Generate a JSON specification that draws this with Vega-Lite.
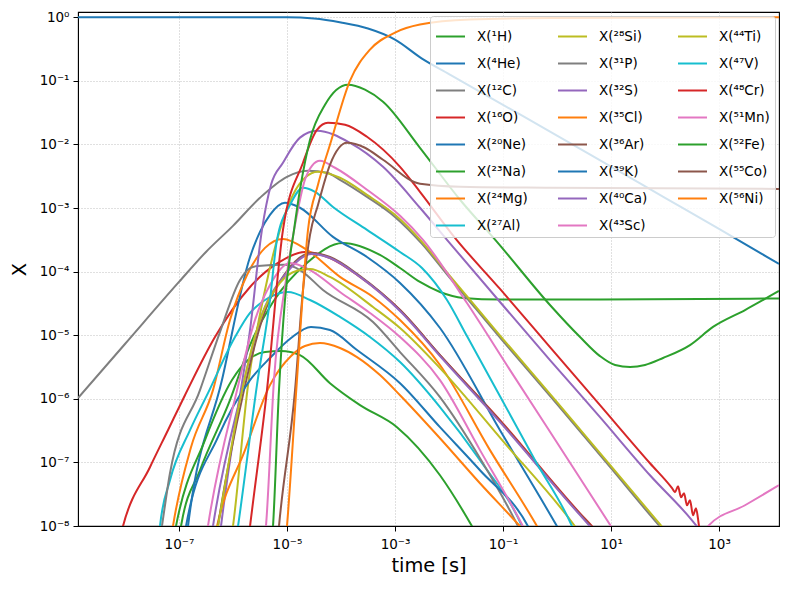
{
  "$schema": "https://vega.github.io/schema/vega-lite/v6.json",
  "width": 701,
  "height": 514,
  "autosize": {"type": "none"},
  "padding": {"left": 78, "top": 12, "right": 11, "bottom": 63},
  "background": "white",
  "config": {
    "font": "DejaVu Sans",
    "view": {"stroke": "black", "strokeWidth": 1.1}
  },
  "data": {"values": [
    {"s":"X(¹H)","t":8.8e-8,"v":2.88e-9},{"s":"X(¹H)","t":1.09e-7,"v":9.9e-9},{"s":"X(¹H)","t":2.45e-7,"v":7.53e-8},{"s":"X(¹H)","t":8.8e-7,"v":9.55e-7},{"s":"X(¹H)","t":2.07e-6,"v":7.01e-6},{"s":"X(¹H)","t":5.51e-6,"v":3.33e-5},{"s":"X(¹H)","t":2.34e-5,"v":1.37e-4},{"s":"X(¹H)","t":1.09e-4,"v":2.83e-4},{"s":"X(¹H)","t":5.27e-4,"v":1.83e-4},{"s":"X(¹H)","t":1.24e-3,"v":1.14e-4},{"s":"X(¹H)","t":2.9e-3,"v":6.88e-5},{"s":"X(¹H)","t":6.81e-3,"v":4.79e-5},{"s":"X(¹H)","t":1.82e-2,"v":3.86e-5},{"s":"X(¹H)","t":8.8e-2,"v":3.65e-5},{"s":"X(¹H)","t":6.25,"v":3.65e-5},{"s":"X(¹H)","t":1.29e4,"v":3.79e-5},
    {"s":"X(⁴He)","t":1.35e-9,"v":1.0},{"s":"X(⁴He)","t":1e-5,"v":0.998},{"s":"X(⁴He)","t":3.16e-5,"v":0.955},{"s":"X(⁴He)","t":1e-4,"v":0.826},{"s":"X(⁴He)","t":3.16e-4,"v":0.664},{"s":"X(⁴He)","t":1e-3,"v":0.445},{"s":"X(⁴He)","t":3.16e-3,"v":0.224},{"s":"X(⁴He)","t":1e-2,"v":0.128},{"s":"X(⁴He)","t":0.1,"v":0.042},{"s":"X(⁴He)","t":1,"v":0.0138},{"s":"X(⁴He)","t":10,"v":4.47e-3},{"s":"X(⁴He)","t":100,"v":1.45e-3},{"s":"X(⁴He)","t":1000,"v":4.7e-4},{"s":"X(⁴He)","t":1.29e4,"v":1.32e-4},
    {"s":"X(¹²C)","t":1.35e-9,"v":1.03e-6},{"s":"X(¹²C)","t":1e-8,"v":7.28e-6},{"s":"X(¹²C)","t":1e-7,"v":6.88e-5},{"s":"X(¹²C)","t":3.16e-7,"v":2.04e-4},{"s":"X(¹²C)","t":1e-6,"v":5.25e-4},{"s":"X(¹²C)","t":3.16e-6,"v":1.45e-3},{"s":"X(¹²C)","t":1e-5,"v":3.1e-3},{"s":"X(¹²C)","t":2.45e-5,"v":3.86e-3},{"s":"X(¹²C)","t":5.51e-5,"v":3.58e-3},{"s":"X(¹²C)","t":9.58e-5,"v":2.78e-3},{"s":"X(¹²C)","t":3.03e-4,"v":1.5e-3},{"s":"X(¹²C)","t":1e-3,"v":7.26e-4},{"s":"X(¹²C)","t":3.16e-3,"v":2.73e-4},{"s":"X(¹²C)","t":1e-2,"v":8.26e-5},{"s":"X(¹²C)","t":3.16e-2,"v":2.59e-5},{"s":"X(¹²C)","t":0.1,"v":8.11e-6},{"s":"X(¹²C)","t":1,"v":8.26e-7},{"s":"X(¹²C)","t":10,"v":8.1e-8},{"s":"X(¹²C)","t":100,"v":7.96e-9},{"s":"X(¹²C)","t":445,"v":2e-9},
    {"s":"X(¹⁶O)","t":6.53e-9,"v":2.88e-9},{"s":"X(¹⁶O)","t":9.18e-9,"v":9.9e-9},{"s":"X(¹⁶O)","t":2.9e-8,"v":8.4e-8},{"s":"X(¹⁶O)","t":6.25e-8,"v":3.21e-7},{"s":"X(¹⁶O)","t":1.29e-7,"v":1.14e-6},{"s":"X(¹⁶O)","t":4.64e-7,"v":9.37e-6},{"s":"X(¹⁶O)","t":2.07e-6,"v":5.74e-5},{"s":"X(¹⁶O)","t":6.81e-6,"v":1.37e-4},{"s":"X(¹⁶O)","t":2.15e-5,"v":2.04e-4},{"s":"X(¹⁶O)","t":6.25e-5,"v":1.64e-4},{"s":"X(¹⁶O)","t":2.25e-4,"v":8.26e-5},{"s":"X(¹⁶O)","t":1.24e-3,"v":2.49e-5},{"s":"X(¹⁶O)","t":6.81e-3,"v":4.87e-6},{"s":"X(¹⁶O)","t":8.8e-2,"v":4.62e-7},{"s":"X(¹⁶O)","t":2.67,"v":1.58e-8},{"s":"X(¹⁶O)","t":4.45,"v":9.9e-9},{"s":"X(¹⁶O)","t":6.25,"v":7.14e-9},
    {"s":"X(²⁰Ne)","t":1.24e-7,"v":2.88e-9},{"s":"X(²⁰Ne)","t":1.47e-7,"v":9.9e-9},{"s":"X(²⁰Ne)","t":6.25e-7,"v":1.97e-6},{"s":"X(²⁰Ne)","t":2.07e-6,"v":1.7e-4},{"s":"X(²⁰Ne)","t":3.16e-6,"v":4.22e-4},{"s":"X(²⁰Ne)","t":4.84e-6,"v":7.82e-4},{"s":"X(²⁰Ne)","t":9.18e-6,"v":1.21e-3},{"s":"X(²⁰Ne)","t":1.74e-5,"v":1.01e-3},{"s":"X(²⁰Ne)","t":7.11e-5,"v":3.52e-4},{"s":"X(²⁰Ne)","t":3.03e-4,"v":1.7e-4},{"s":"X(²⁰Ne)","t":1.24e-3,"v":6.64e-5},{"s":"X(²⁰Ne)","t":6.81e-3,"v":1.3e-5},{"s":"X(²⁰Ne)","t":8.8e-2,"v":3.21e-7},{"s":"X(²⁰Ne)","t":1,"v":9.9e-9},{"s":"X(²⁰Ne)","t":1.41,"v":5.95e-9},
    {"s":"X(²³Na)","t":6.81e-8,"v":2.88e-9},{"s":"X(²³Na)","t":8.8e-8,"v":9.9e-9},{"s":"X(²³Na)","t":3.03e-7,"v":2.24e-7},{"s":"X(²³Na)","t":9.58e-7,"v":1.97e-6},{"s":"X(²³Na)","t":1.9e-6,"v":4.07e-6},{"s":"X(²³Na)","t":3.92e-6,"v":5.43e-6},{"s":"X(²³Na)","t":7.74e-6,"v":5.64e-6},{"s":"X(²³Na)","t":1.74e-5,"v":4.87e-6},{"s":"X(²³Na)","t":6.25e-5,"v":1.76e-6},{"s":"X(²³Na)","t":2.25e-4,"v":7.96e-7},{"s":"X(²³Na)","t":1.09e-3,"v":3.58e-7},{"s":"X(²³Na)","t":6.81e-3,"v":6.28e-8},{"s":"X(²³Na)","t":2.67e-2,"v":9.9e-9},{"s":"X(²³Na)","t":3.75e-2,"v":5.95e-9},
    {"s":"X(²⁴Mg)","t":6.25e-8,"v":2.88e-9},{"s":"X(²⁴Mg)","t":7.74e-8,"v":9.9e-9},{"s":"X(²⁴Mg)","t":1.67e-7,"v":1.73e-7},{"s":"X(²⁴Mg)","t":4.26e-7,"v":1.37e-6},{"s":"X(²⁴Mg)","t":8.8e-7,"v":1.73e-5},{"s":"X(²⁴Mg)","t":1.82e-6,"v":8.87e-5},{"s":"X(²⁴Mg)","t":3.92e-6,"v":2.36e-4},{"s":"X(²⁴Mg)","t":8.43e-6,"v":3.27e-4},{"s":"X(²⁴Mg)","t":2.34e-5,"v":2.2e-4},{"s":"X(²⁴Mg)","t":9.58e-5,"v":8.26e-5},{"s":"X(²⁴Mg)","t":3.92e-4,"v":4e-5},{"s":"X(²⁴Mg)","t":1.24e-3,"v":1.73e-5},{"s":"X(²⁴Mg)","t":6.81e-3,"v":3.4e-6},{"s":"X(²⁴Mg)","t":5.74e-2,"v":1.56e-7},{"s":"X(²⁴Mg)","t":0.427,"v":9.9e-9},{"s":"X(²⁴Mg)","t":0.6,"v":5.95e-9},
    {"s":"X(²⁷Al)","t":3.92e-8,"v":2.88e-9},{"s":"X(²⁷Al)","t":4.45e-8,"v":9.9e-9},{"s":"X(²⁷Al)","t":6.81e-8,"v":5.24e-8},{"s":"X(²⁷Al)","t":1.6e-7,"v":3.21e-7},{"s":"X(²⁷Al)","t":3.44e-7,"v":1.23e-6},{"s":"X(²⁷Al)","t":1.09e-6,"v":9.37e-6},{"s":"X(²⁷Al)","t":2.07e-6,"v":2.24e-5},{"s":"X(²⁷Al)","t":3.92e-6,"v":3.58e-5},{"s":"X(²⁷Al)","t":1.04e-5,"v":4.79e-5},{"s":"X(²⁷Al)","t":2.67e-5,"v":3.58e-5},{"s":"X(²⁷Al)","t":9.58e-5,"v":1.94e-5},{"s":"X(²⁷Al)","t":3.44e-4,"v":9.37e-6},{"s":"X(²⁷Al)","t":1.24e-3,"v":3.78e-6},{"s":"X(²⁷Al)","t":6.81e-3,"v":7.4e-7},{"s":"X(²⁷Al)","t":3.75e-2,"v":1.08e-7},{"s":"X(²⁷Al)","t":0.225,"v":9.9e-9},{"s":"X(²⁷Al)","t":0.316,"v":4.97e-9},
    {"s":"X(²⁸Si)","t":8.07e-7,"v":2.88e-9},{"s":"X(²⁸Si)","t":1e-6,"v":9.9e-9},{"s":"X(²⁸Si)","t":1.9e-6,"v":1.64e-6},{"s":"X(²⁸Si)","t":3.92e-6,"v":5.15e-5},{"s":"X(²⁸Si)","t":7.41e-6,"v":4.54e-4},{"s":"X(²⁸Si)","t":1.29e-5,"v":1.61e-3},{"s":"X(²⁸Si)","t":2.15e-5,"v":2.99e-3},{"s":"X(²⁸Si)","t":3.75e-5,"v":3.72e-3},{"s":"X(²⁸Si)","t":9.58e-5,"v":2.99e-3},{"s":"X(²⁸Si)","t":3.03e-4,"v":1.61e-3},{"s":"X(²⁸Si)","t":1e-3,"v":7.82e-4},{"s":"X(²⁸Si)","t":3.16e-3,"v":2.94e-4},{"s":"X(²⁸Si)","t":1e-2,"v":8.87e-5},{"s":"X(²⁸Si)","t":3.16e-2,"v":2.78e-5},{"s":"X(²⁸Si)","t":0.1,"v":8.71e-6},{"s":"X(²⁸Si)","t":1,"v":8.87e-7},{"s":"X(²⁸Si)","t":10,"v":8.71e-8},{"s":"X(²⁸Si)","t":100,"v":8.57e-9},
    {"s":"X(³¹P)","t":3.92e-8,"v":2.88e-9},{"s":"X(³¹P)","t":4.84e-8,"v":9.9e-9},{"s":"X(³¹P)","t":6.81e-8,"v":6.76e-8},{"s":"X(³¹P)","t":2.45e-7,"v":1.37e-6},{"s":"X(³¹P)","t":5.74e-7,"v":1.12e-5},{"s":"X(³¹P)","t":1.35e-6,"v":7.4e-5},{"s":"X(³¹P)","t":2.07e-6,"v":1.14e-4},{"s":"X(³¹P)","t":2.9e-6,"v":1.23e-4},{"s":"X(³¹P)","t":9.18e-6,"v":1.28e-4},{"s":"X(³¹P)","t":1.74e-5,"v":1.06e-4},{"s":"X(³¹P)","t":4.64e-5,"v":5.15e-5},{"s":"X(³¹P)","t":3.92e-4,"v":1.61e-5},{"s":"X(³¹P)","t":1.24e-3,"v":5.43e-6},{"s":"X(³¹P)","t":6.81e-3,"v":1.06e-6},{"s":"X(³¹P)","t":3.75e-2,"v":1.16e-7},{"s":"X(³¹P)","t":0.19,"v":9.9e-9},{"s":"X(³¹P)","t":0.255,"v":5.95e-9},
    {"s":"X(³²S)","t":5.06e-7,"v":2.88e-9},{"s":"X(³²S)","t":6e-7,"v":9.9e-9},{"s":"X(³²S)","t":1.14e-6,"v":4.62e-7},{"s":"X(³²S)","t":2.07e-6,"v":1.21e-5},{"s":"X(³²S)","t":3.44e-6,"v":4.54e-4},{"s":"X(³²S)","t":5.06e-6,"v":2.32e-3},{"s":"X(³²S)","t":8.43e-6,"v":5.15e-3},{"s":"X(³²S)","t":1.74e-5,"v":1.28e-2},{"s":"X(³²S)","t":3.59e-5,"v":1.64e-2},{"s":"X(³²S)","t":1.47e-4,"v":1.06e-2},{"s":"X(³²S)","t":6e-4,"v":4.45e-3},{"s":"X(³²S)","t":2.9e-3,"v":1.01e-3},{"s":"X(³²S)","t":9.18e-3,"v":3.16e-4},{"s":"X(³²S)","t":8.8e-2,"v":3.33e-5},{"s":"X(³²S)","t":0.741,"v":4.07e-6},{"s":"X(³²S)","t":6.25,"v":5.15e-7},{"s":"X(³²S)","t":52.7,"v":6.28e-8},{"s":"X(³²S)","t":316,"v":1.23e-8},{"s":"X(³²S)","t":445,"v":8.57e-9},
    {"s":"X(³⁵Cl)","t":3.75e-7,"v":2.88e-9},{"s":"X(³⁵Cl)","t":5.06e-7,"v":9.9e-9},{"s":"X(³⁵Cl)","t":1.67e-6,"v":1.56e-7},{"s":"X(³⁵Cl)","t":4.84e-6,"v":1.64e-6},{"s":"X(³⁵Cl)","t":1.19e-5,"v":4.7e-6},{"s":"X(³⁵Cl)","t":2.15e-5,"v":6.76e-6},{"s":"X(³⁵Cl)","t":4.08e-5,"v":7.53e-6},{"s":"X(³⁵Cl)","t":9.58e-5,"v":6.29e-6},{"s":"X(³⁵Cl)","t":1.98e-4,"v":4.53e-6},{"s":"X(³⁵Cl)","t":5.27e-4,"v":2.36e-6},{"s":"X(³⁵Cl)","t":1.24e-3,"v":1.14e-6},{"s":"X(³⁵Cl)","t":6.81e-3,"v":2.4e-7},{"s":"X(³⁵Cl)","t":3.75e-2,"v":4.7e-8},{"s":"X(³⁵Cl)","t":0.207,"v":9.9e-9},{"s":"X(³⁵Cl)","t":0.316,"v":6.64e-9},
    {"s":"X(³⁶Ar)","t":4.26e-7,"v":2.88e-9},{"s":"X(³⁶Ar)","t":5.27e-7,"v":9.9e-9},{"s":"X(³⁶Ar)","t":1.6e-6,"v":1.37e-6},{"s":"X(³⁶Ar)","t":3.44e-6,"v":1.73e-5},{"s":"X(³⁶Ar)","t":9.18e-6,"v":9.2e-5},{"s":"X(³⁶Ar)","t":2.9e-5,"v":1.97e-4},{"s":"X(³⁶Ar)","t":6.25e-5,"v":1.7e-4},{"s":"X(³⁶Ar)","t":2.25e-4,"v":8.55e-5},{"s":"X(³⁶Ar)","t":1.24e-3,"v":2.49e-5},{"s":"X(³⁶Ar)","t":6.81e-3,"v":4.87e-6},{"s":"X(³⁶Ar)","t":8.8e-2,"v":4.46e-7},{"s":"X(³⁶Ar)","t":2.67,"v":1.53e-8},{"s":"X(³⁶Ar)","t":4.45,"v":9.6e-9},{"s":"X(³⁶Ar)","t":6.25,"v":6.9e-9},
    {"s":"X(³⁹K)","t":1.14e-7,"v":2.88e-9},{"s":"X(³⁹K)","t":1.35e-7,"v":9.9e-9},{"s":"X(³⁹K)","t":5.27e-7,"v":2.49e-7},{"s":"X(³⁹K)","t":2.07e-6,"v":1.97e-6},{"s":"X(³⁹K)","t":4.84e-6,"v":4.38e-6},{"s":"X(³⁹K)","t":1.19e-5,"v":9.04e-6},{"s":"X(³⁹K)","t":2.78e-5,"v":1.35e-5},{"s":"X(³⁹K)","t":6.25e-5,"v":1.21e-5},{"s":"X(³⁹K)","t":1.98e-4,"v":5.85e-6},{"s":"X(³⁹K)","t":1.24e-3,"v":1.76e-6},{"s":"X(³⁹K)","t":6.81e-3,"v":3.58e-7},{"s":"X(³⁹K)","t":3.75e-2,"v":7.53e-8},{"s":"X(³⁹K)","t":0.29,"v":9.9e-9},{"s":"X(³⁹K)","t":0.392,"v":5.95e-9},
    {"s":"X(⁴⁰Ca)","t":3.44e-7,"v":2.88e-9},{"s":"X(⁴⁰Ca)","t":4.26e-7,"v":9.9e-9},{"s":"X(⁴⁰Ca)","t":1.47e-6,"v":1.37e-6},{"s":"X(⁴⁰Ca)","t":3.16e-6,"v":1.73e-5},{"s":"X(⁴⁰Ca)","t":9.18e-6,"v":8.87e-5},{"s":"X(⁴⁰Ca)","t":2.9e-5,"v":1.9e-4},{"s":"X(⁴⁰Ca)","t":6.25e-5,"v":1.64e-4},{"s":"X(⁴⁰Ca)","t":2.25e-4,"v":8.26e-5},{"s":"X(⁴⁰Ca)","t":1.24e-3,"v":2.4e-5},{"s":"X(⁴⁰Ca)","t":6.81e-3,"v":4.7e-6},{"s":"X(⁴⁰Ca)","t":8.8e-2,"v":4.3e-7},{"s":"X(⁴⁰Ca)","t":2.67,"v":1.48e-8},{"s":"X(⁴⁰Ca)","t":4.45,"v":9.1e-9},{"s":"X(⁴⁰Ca)","t":6.25,"v":6.64e-9},
    {"s":"X(⁴³Sc)","t":2.78e-7,"v":2.88e-9},{"s":"X(⁴³Sc)","t":3.44e-7,"v":9.9e-9},{"s":"X(⁴³Sc)","t":1.19e-6,"v":1.37e-6},{"s":"X(⁴³Sc)","t":2.55e-6,"v":1.73e-5},{"s":"X(⁴³Sc)","t":4.84e-6,"v":6.17e-5},{"s":"X(⁴³Sc)","t":1.14e-5,"v":1.37e-4},{"s":"X(⁴³Sc)","t":2.67e-5,"v":1.06e-4},{"s":"X(⁴³Sc)","t":9.58e-5,"v":4.79e-5},{"s":"X(⁴³Sc)","t":3.44e-4,"v":2.24e-5},{"s":"X(⁴³Sc)","t":1.24e-3,"v":9.37e-6},{"s":"X(⁴³Sc)","t":6.81e-3,"v":1.97e-6},{"s":"X(⁴³Sc)","t":3.75e-2,"v":1.56e-7},{"s":"X(⁴³Sc)","t":0.234,"v":9.9e-9},{"s":"X(⁴³Sc)","t":0.316,"v":5.95e-9},
    {"s":"X(⁴⁴Ti)","t":4.08e-7,"v":2.88e-9},{"s":"X(⁴⁴Ti)","t":5.27e-7,"v":9.9e-9},{"s":"X(⁴⁴Ti)","t":1.35e-6,"v":9.55e-7},{"s":"X(⁴⁴Ti)","t":3.16e-6,"v":1.73e-5},{"s":"X(⁴⁴Ti)","t":7.41e-6,"v":6.64e-5},{"s":"X(⁴⁴Ti)","t":1.53e-5,"v":1.03e-4},{"s":"X(⁴⁴Ti)","t":2.67e-5,"v":1.1e-4},{"s":"X(⁴⁴Ti)","t":6.25e-5,"v":8.26e-5},{"s":"X(⁴⁴Ti)","t":3.92e-4,"v":2.78e-5},{"s":"X(⁴⁴Ti)","t":1.24e-3,"v":1.3e-5},{"s":"X(⁴⁴Ti)","t":6.81e-3,"v":3.04e-6},{"s":"X(⁴⁴Ti)","t":0.1,"v":2.16e-7},{"s":"X(⁴⁴Ti)","t":2.15,"v":9.9e-9},{"s":"X(⁴⁴Ti)","t":3.3,"v":5.95e-9},
    {"s":"X(⁴⁷V)","t":1e-6,"v":2.88e-9},{"s":"X(⁴⁷V)","t":1.24e-6,"v":9.9e-9},{"s":"X(⁴⁷V)","t":2.78e-6,"v":1.64e-6},{"s":"X(⁴⁷V)","t":4.84e-6,"v":3.58e-5},{"s":"X(⁴⁷V)","t":6.53e-6,"v":3.16e-4},{"s":"X(⁴⁷V)","t":1.14e-5,"v":1.12e-3},{"s":"X(⁴⁷V)","t":1.98e-5,"v":2.08e-3},{"s":"X(⁴⁷V)","t":3.3e-5,"v":1.8e-3},{"s":"X(⁴⁷V)","t":7.11e-5,"v":1.04e-3},{"s":"X(⁴⁷V)","t":3.03e-4,"v":4.54e-4},{"s":"X(⁴⁷V)","t":1.24e-3,"v":2.04e-4},{"s":"X(⁴⁷V)","t":3.16e-3,"v":1.14e-4},{"s":"X(⁴⁷V)","t":9.18e-3,"v":3.58e-5},{"s":"X(⁴⁷V)","t":2.15e-2,"v":9.7e-6},{"s":"X(⁴⁷V)","t":8.8e-2,"v":1.1e-6},{"s":"X(⁴⁷V)","t":0.392,"v":1.08e-7},{"s":"X(⁴⁷V)","t":1.9,"v":9.9e-9},{"s":"X(⁴⁷V)","t":2.67,"v":4.97e-9},
    {"s":"X(⁴⁸Cr)","t":1.74e-6,"v":2.88e-9},{"s":"X(⁴⁸Cr)","t":2.07e-6,"v":9.9e-9},{"s":"X(⁴⁸Cr)","t":4.26e-6,"v":1.37e-6},{"s":"X(⁴⁸Cr)","t":8.43e-6,"v":4.54e-4},{"s":"X(⁴⁸Cr)","t":1.98e-5,"v":5.15e-3},{"s":"X(⁴⁸Cr)","t":3.59e-5,"v":1.7e-2},{"s":"X(⁴⁸Cr)","t":5.74e-5,"v":2.19e-2},{"s":"X(⁴⁸Cr)","t":1.19e-4,"v":2.04e-2},{"s":"X(⁴⁸Cr)","t":3.03e-4,"v":1.32e-2},{"s":"X(⁴⁸Cr)","t":1.24e-3,"v":4.45e-3},{"s":"X(⁴⁸Cr)","t":2.9e-3,"v":1.8e-3},{"s":"X(⁴⁸Cr)","t":1.29e-2,"v":3.4e-4},{"s":"X(⁴⁸Cr)","t":8.8e-2,"v":5.34e-5},{"s":"X(⁴⁸Cr)","t":0.741,"v":6.52e-6},{"s":"X(⁴⁸Cr)","t":6.25,"v":7.96e-7},{"s":"X(⁴⁸Cr)","t":52.7,"v":9.7e-8},{"s":"X(⁴⁸Cr)","t":135,"v":3.93e-8},{"s":"X(⁴⁸Cr)","t":153,"v":3.4e-8},{"s":"X(⁴⁸Cr)","t":174,"v":4.22e-8},{"s":"X(⁴⁸Cr)","t":198,"v":2.83e-8},{"s":"X(⁴⁸Cr)","t":225,"v":3.27e-8},{"s":"X(⁴⁸Cr)","t":255,"v":2.12e-8},{"s":"X(⁴⁸Cr)","t":290,"v":2.54e-8},{"s":"X(⁴⁸Cr)","t":330,"v":1.48e-8},{"s":"X(⁴⁸Cr)","t":375,"v":1.9e-8},{"s":"X(⁴⁸Cr)","t":427,"v":9.9e-9},{"s":"X(⁴⁸Cr)","t":484,"v":5.95e-9},
    {"s":"X(⁵¹Mn)","t":3.44e-6,"v":2.88e-9},{"s":"X(⁵¹Mn)","t":4.08e-6,"v":9.9e-9},{"s":"X(⁵¹Mn)","t":5.74e-6,"v":1.97e-6},{"s":"X(⁵¹Mn)","t":9.58e-6,"v":7.4e-5},{"s":"X(⁵¹Mn)","t":1.41e-5,"v":5.43e-4},{"s":"X(⁵¹Mn)","t":2.15e-5,"v":2.78e-3},{"s":"X(⁵¹Mn)","t":2.9e-5,"v":4.62e-3},{"s":"X(⁵¹Mn)","t":4.08e-5,"v":5.53e-3},{"s":"X(⁵¹Mn)","t":7.74e-5,"v":4.3e-3},{"s":"X(⁵¹Mn)","t":3.03e-4,"v":1.94e-3},{"s":"X(⁵¹Mn)","t":1.24e-3,"v":7.54e-4},{"s":"X(⁵¹Mn)","t":3.3e-3,"v":3.16e-4},{"s":"X(⁵¹Mn)","t":2.15e-2,"v":3.21e-5},{"s":"X(⁵¹Mn)","t":0.135,"v":2.83e-6},{"s":"X(⁵¹Mn)","t":2.67,"v":5.64e-8},{"s":"X(⁵¹Mn)","t":10,"v":9.9e-9},{"s":"X(⁵¹Mn)","t":14.7,"v":5.95e-9},{"s":"X(⁵¹Mn)","t":80.7,"v":3.3e-10},{"s":"X(⁵¹Mn)","t":445,"v":5.95e-9},{"s":"X(⁵¹Mn)","t":625,"v":9.9e-9},{"s":"X(⁵¹Mn)","t":3030,"v":2.12e-8},{"s":"X(⁵¹Mn)","t":1.29e4,"v":4.38e-8},
    {"s":"X(⁵²Fe)","t":4.84e-6,"v":2.88e-9},{"s":"X(⁵²Fe)","t":5.51e-6,"v":9.9e-9},{"s":"X(⁵²Fe)","t":7.11e-6,"v":1.37e-6},{"s":"X(⁵²Fe)","t":9.18e-6,"v":3.58e-5},{"s":"X(⁵²Fe)","t":1.35e-5,"v":4.54e-4},{"s":"X(⁵²Fe)","t":1.74e-5,"v":1.94e-3},{"s":"X(⁵²Fe)","t":2.67e-5,"v":1.19e-2},{"s":"X(⁵²Fe)","t":5.06e-5,"v":4.22e-2},{"s":"X(⁵²Fe)","t":1.35e-4,"v":8.71e-2},{"s":"X(⁵²Fe)","t":2.78e-4,"v":7.27e-2},{"s":"X(⁵²Fe)","t":6e-4,"v":4.7e-2},{"s":"X(⁵²Fe)","t":2.9e-3,"v":8.87e-3},{"s":"X(⁵²Fe)","t":1.6e-2,"v":1.35e-3},{"s":"X(⁵²Fe)","t":7.74e-2,"v":2.94e-4},{"s":"X(⁵²Fe)","t":0.741,"v":2.99e-5},{"s":"X(⁵²Fe)","t":2.67,"v":9.37e-6},{"s":"X(⁵²Fe)","t":6.25,"v":4.7e-6},{"s":"X(⁵²Fe)","t":11.9,"v":3.4e-6},{"s":"X(⁵²Fe)","t":22.5,"v":3.16e-6},{"s":"X(⁵²Fe)","t":42.7,"v":3.4e-6},{"s":"X(⁵²Fe)","t":91.8,"v":4.38e-6},{"s":"X(⁵²Fe)","t":290,"v":7.01e-6},{"s":"X(⁵²Fe)","t":774,"v":1.35e-5},{"s":"X(⁵²Fe)","t":3030,"v":2.49e-5},{"s":"X(⁵²Fe)","t":1.29e4,"v":4.97e-5},
    {"s":"X(⁵⁵Co)","t":6.25e-6,"v":2.88e-9},{"s":"X(⁵⁵Co)","t":7.11e-6,"v":9.9e-9},{"s":"X(⁵⁵Co)","t":1.41e-5,"v":1.37e-6},{"s":"X(⁵⁵Co)","t":1.98e-5,"v":5.15e-5},{"s":"X(⁵⁵Co)","t":2.67e-5,"v":3.79e-4},{"s":"X(⁵⁵Co)","t":3.75e-5,"v":1.12e-3},{"s":"X(⁵⁵Co)","t":6.25e-5,"v":4.79e-3},{"s":"X(⁵⁵Co)","t":1.29e-4,"v":1.06e-2},{"s":"X(⁵⁵Co)","t":2.78e-4,"v":8.87e-3},{"s":"X(⁵⁵Co)","t":6e-4,"v":5.74e-3},{"s":"X(⁵⁵Co)","t":2.9e-3,"v":2.41e-3},{"s":"X(⁵⁵Co)","t":1.6e-2,"v":2.16e-3},{"s":"X(⁵⁵Co)","t":0.741,"v":2.08e-3},{"s":"X(⁵⁵Co)","t":1.29e4,"v":2e-3},
    {"s":"X(⁵⁶Ni)","t":8.8e-6,"v":2.88e-9},{"s":"X(⁵⁶Ni)","t":1e-5,"v":9.9e-9},{"s":"X(⁵⁶Ni)","t":1.53e-5,"v":1.97e-6},{"s":"X(⁵⁶Ni)","t":2.45e-5,"v":4.54e-4},{"s":"X(⁵⁶Ni)","t":3.75e-5,"v":2.32e-3},{"s":"X(⁵⁶Ni)","t":6.25e-5,"v":9.89e-3},{"s":"X(⁵⁶Ni)","t":1.47e-4,"v":0.101},{"s":"X(⁵⁶Ni)","t":3.44e-4,"v":0.31},{"s":"X(⁵⁶Ni)","t":1e-3,"v":0.574},{"s":"X(⁵⁶Ni)","t":2.9e-3,"v":0.767},{"s":"X(⁵⁶Ni)","t":2.45e-2,"v":0.92},{"s":"X(⁵⁶Ni)","t":0.741,"v":0.971},{"s":"X(⁵⁶Ni)","t":1.29e4,"v":1.0}
  ]},
  "mark": {"type": "line", "clip": true, "strokeWidth": 2, "interpolate": "monotone"},
  "encoding": {
    "x": {
      "field": "t", "type": "quantitative",
      "scale": {"type": "log", "domain": [1.35e-9, 1.29e4], "nice": false},
      "axis": {
        "title": "time [s]",
        "values": [1e-7, 1e-5, 1e-3, 0.1, 10, 1000],
        "labelExpr": "'10' + (datum.value < 1 ? '⁻' : '') + substring('⁰¹²³⁴⁵⁶⁷⁸⁹', abs(round(log(datum.value)/LN10)), abs(round(log(datum.value)/LN10)) + 1)",
        "grid": true, "gridDash": [1, 2], "gridColor": "#b0b0b0", "gridWidth": 0.8,
        "domainColor": "black", "tickColor": "black", "tickSize": 5, "tickWidth": 1,
        "labelFontSize": 13.5, "labelColor": "black", "labelPadding": 6, "labelFlush": false,
        "titleFontSize": 19.4, "titleFontWeight": "normal", "titleColor": "black", "titlePadding": 6
      }
    },
    "y": {
      "field": "v", "type": "quantitative",
      "scale": {"type": "log", "domain": [1e-8, 1.21], "nice": false},
      "axis": {
        "title": "X",
        "values": [1e-8, 1e-7, 1e-6, 1e-5, 1e-4, 1e-3, 1e-2, 0.1, 1],
        "labelExpr": "'10' + (datum.value < 1 ? '⁻' : '') + substring('⁰¹²³⁴⁵⁶⁷⁸⁹', abs(round(log(datum.value)/LN10)), abs(round(log(datum.value)/LN10)) + 1)",
        "grid": true, "gridDash": [1, 2], "gridColor": "#b0b0b0", "gridWidth": 0.8,
        "domainColor": "black", "tickColor": "black", "tickSize": 5, "tickWidth": 1,
        "labelFontSize": 13.5, "labelColor": "black", "labelPadding": 4, "labelFlush": false,
        "titleFontSize": 19.4, "titleFontWeight": "normal", "titleColor": "black", "titlePadding": 10
      }
    },
    "color": {
      "field": "s", "type": "nominal",
      "scale": {
        "domain": ["X(¹H)","X(⁴He)","X(¹²C)","X(¹⁶O)","X(²⁰Ne)","X(²³Na)","X(²⁴Mg)","X(²⁷Al)","X(²⁸Si)","X(³¹P)","X(³²S)","X(³⁵Cl)","X(³⁶Ar)","X(³⁹K)","X(⁴⁰Ca)","X(⁴³Sc)","X(⁴⁴Ti)","X(⁴⁷V)","X(⁴⁸Cr)","X(⁵¹Mn)","X(⁵²Fe)","X(⁵⁵Co)","X(⁵⁶Ni)"],
        "range": ["#2ca02c","#1f77b4","#7f7f7f","#d62728","#1f77b4","#2ca02c","#ff7f0e","#17becf","#bcbd22","#7f7f7f","#9467bd","#ff7f0e","#8c564b","#1f77b4","#9467bd","#e377c2","#bcbd22","#17becf","#d62728","#e377c2","#2ca02c","#8c564b","#ff7f0e"]
      },
      "legend": {
        "title": null, "orient": "top-right", "offset": 4, "columns": 3,
        "symbolType": "stroke", "symbolSize": 841, "symbolStrokeWidth": 2,
        "labelFontSize": 13.5, "labelColor": "black", "labelOffset": 11, "labelLimit": 200,
        "rowPadding": 5, "columnPadding": 26, "padding": 5,
        "fillColor": "rgba(255,255,255,0.8)", "strokeColor": "#cccccc", "cornerRadius": 3
      }
    }
  }
}
